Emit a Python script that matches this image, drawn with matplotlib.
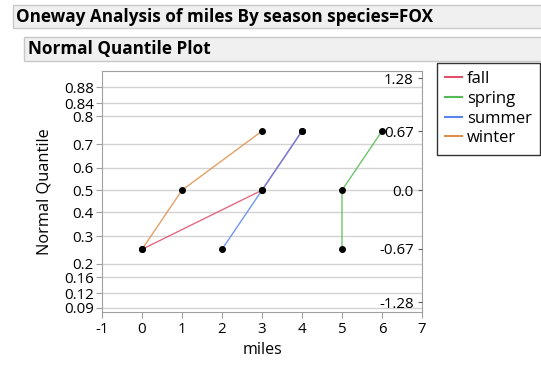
import matplotlib
matplotlib.use("Agg")
import matplotlib.pyplot as plt
from matplotlib.patches import Rectangle
from statistics import NormalDist

plt.rcParams['font.family'] = ['Open Sans', 'DejaVu Sans']

title1 = "Oneway Analysis of miles By season species=FOX"
title2 = "Normal Quantile Plot"

seasons = ["fall", "spring", "summer", "winter"]
colors = ["#e0506a", "#55b955", "#5a84ee", "#e0904a"]
miles = {
    "fall":   [0, 3, 4],
    "spring": [5, 5, 6],
    "summer": [2, 3, 4],
    "winter": [0, 1, 3],
}
probs = [0.25, 0.5, 0.75]

left_ticks = [0.09, 0.12, 0.16, 0.2, 0.3, 0.4, 0.5, 0.6, 0.7, 0.8, 0.84, 0.88]
left_labels = ["0.09", "0.12", "0.16", "0.2", "0.3", "0.4", "0.5", "0.6", "0.7", "0.8", "0.84", "0.88"]
right_ticks = [-1.28, -0.67, 0.0, 0.67, 1.28]
right_labels = ["-1.28", "-0.67", "0.0", "0.67", "1.28"]
x_ticks = [-1, 0, 1, 2, 3, 4, 5, 6, 7]

nd = NormalDist()
W, H = 541, 371
fig = plt.figure(figsize=(W / 100, H / 100), dpi=100)

def frac(x0, y0, x1, y1):
    return [x0 / W, 1 - y1 / H, (x1 - x0) / W, (y1 - y0) / H]

# header bars
for (x0, y0, x1, y1), txt, tx in [((13, 5, 545, 28), title1, 16), ((24, 37, 545, 61), title2, 28)]:
    fig.patches.append(Rectangle((x0 / W, 1 - y1 / H), (x1 - x0) / W, (y1 - y0) / H,
                                 transform=fig.transFigure, facecolor="#f0f0f0",
                                 edgecolor="#c8c8c8", linewidth=1))
    fig.text(tx / W, 1 - ((y0 + y1) / 2) / H, txt, fontsize=12.3, fontweight="bold",
             va="center", ha="left", color="black")

ax = fig.add_axes(frac(102, 71, 422, 312))
for s, c in zip(seasons, colors):
    z = [nd.inv_cdf(p) for p in probs]
    ax.plot(miles[s], z, color=c, lw=1.0, alpha=0.85, zorder=3, label=s)
for s in seasons:
    z = [nd.inv_cdf(p) for p in probs]
    ax.plot(miles[s], z, 'o', color="black", ms=4, zorder=4)

ax.set_xlim(-1, 7)
ax.set_ylim(-1.39, 1.36)
ax.set_xticks(x_ticks)
ax.set_xticklabels([str(v) for v in x_ticks])
ax.set_yticks([nd.inv_cdf(p) for p in left_ticks])
ax.set_yticklabels(left_labels)
ax.yaxis.grid(True, color="#d3d3d3", lw=1)
ax.set_axisbelow(True)
for sp in ax.spines.values():
    sp.set_color("#a0a0a0")
ax.tick_params(axis="both", colors="#a0a0a0", labelcolor="black", labelsize=10.8, length=4)
ax.tick_params(axis="y", pad=2)
ax.set_xlabel("miles", fontsize=11.5, labelpad=3)
ax.set_ylabel("Normal Quantile", fontsize=11.8, labelpad=8)

ax2 = ax.twinx()
ax2.set_ylim(ax.get_ylim())
ax2.set_yticks(right_ticks)
ax2.set_yticklabels(right_labels)
ax2.tick_params(axis="y", direction="in", length=3, pad=-6, colors="#606060",
                labelcolor="black", labelsize=10.8)
for lab in ax2.get_yticklabels():
    lab.set_ha("right")
for sp in ax2.spines.values():
    sp.set_visible(False)

handles, labels = ax.get_legend_handles_labels()
leg = fig.legend(handles, labels, loc="upper left", bbox_to_anchor=(437 / W, 1 - 63 / H),
                 frameon=True, fontsize=12, handlelength=1.0, handletextpad=0.3,
                 borderpad=0.5, labelspacing=0.22, fancybox=False, borderaxespad=0)
leg.get_frame().set_edgecolor("black")
leg.get_frame().set_linewidth(1)
for lh in leg.get_lines():
    lh.set_alpha(1)
    lh.set_linewidth(1.5)

fig.savefig("out.png", dpi=100)
